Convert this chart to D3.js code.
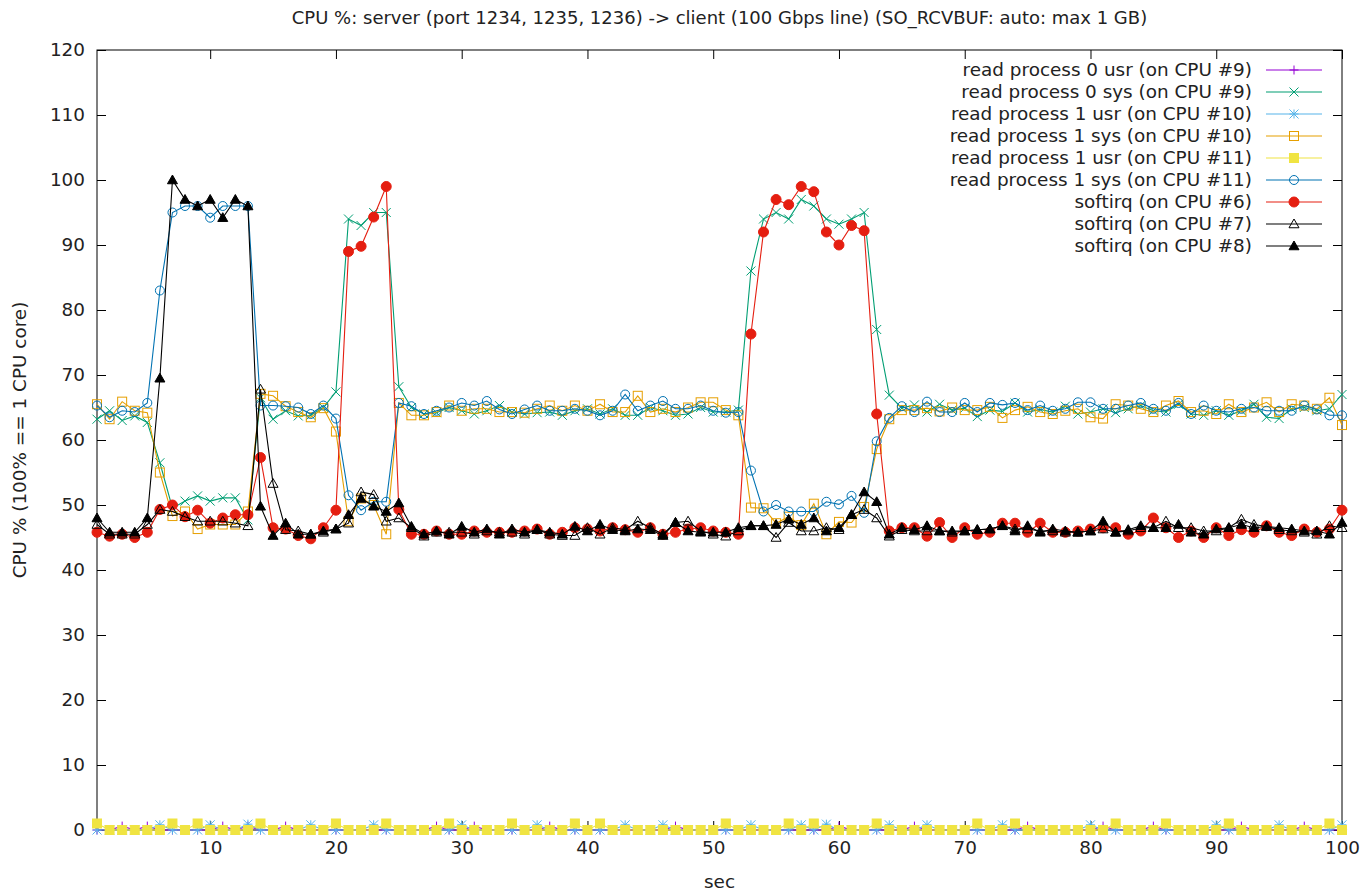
<!DOCTYPE html>
<html>
<head>
<meta charset="utf-8">
<script src="https://cdn.jsdelivr.net/npm/d3@7"></script>
<style>
  body { margin: 0; background: #fff; }
  svg { display: block; font-family: "DejaVu Sans", sans-serif; }
</style>
</head>
<body>
<svg id="chart" width="1365" height="893"></svg>
<script>
'use strict';

// seconds on the x axis start at 1, one sample per second
const firstSec = 1;
const xTicks = [10, 20, 30, 40, 50, 60, 70, 80, 90, 100];
const yTicks = [0, 10, 20, 30, 40, 50, 60, 70, 80, 90, 100, 110, 120];

const titleText = 'CPU %: server (port 1234, 1235, 1236) -> client (100 Gbps line) (SO_RCVBUF: auto: max 1 GB)';
const xLabel = 'sec';
const yLabel = 'CPU % (100% == 1 CPU core)';

const seriesNames = [
  'read process 0 usr (on CPU #9)',
  'read process 0 sys (on CPU #9)',
  'read process 1 usr (on CPU #10)',
  'read process 1 sys (on CPU #10)',
  'read process 1 usr (on CPU #11)',
  'read process 1 sys (on CPU #11)',
  'softirq (on CPU #6)',
  'softirq (on CPU #7)',
  'softirq (on CPU #8)'
];

const proc0Usr = [
  0, 0, 0.6, 0, 0.6, 0, 0, 0, 0, 0,
  0.6, 0, 0.6, 0, 0, 0.6, 0, 0, 0, 0,
  0, 0, 0, 0, 0, 0, 0, 0.6, 0, 0,
  0.6, 0, 0, 0, 0, 0, 0.6, 0, 0, 0,
  0, 0, 0, 0, 0, 0, 0.6, 0, 0, 0,
  0, 0, 0, 0, 0, 0, 0, 0, 0, 0.6,
  0, 0, 0, 0, 0, 0.6, 0, 0, 0, 0,
  0, 0, 0, 0, 0.6, 0, 0, 0, 0, 0,
  0.6, 0, 0, 0, 0.6, 0, 0, 0, 0, 0,
  0, 0.6, 0, 0, 0, 0, 0.6, 0, 0, 0
];

const proc0Sys = [
  63.2, 64.5, 63.0, 63.7, 62.7, 56.5, 49.5, 50.6, 51.4, 50.6,
  51.1, 51.1, 47.7, 66.5, 63.2, 64.5, 63.7, 63.8, 65.0, 67.4,
  94.0, 93.0, 95.0, 95.0, 68.2, 65.0, 64.0, 64.2, 65.0, 64.5,
  64.0, 64.5, 65.3, 64.3, 64.0, 64.2, 64.3, 63.8, 64.5, 64.8,
  64.0, 64.8, 63.8, 63.8, 65.0, 64.5, 63.8, 64.0, 65.0, 64.3,
  64.3, 64.6, 86.0, 94.0, 95.0, 94.0, 97.0, 96.0, 94.0, 93.2,
  94.0, 95.0, 77.0, 66.9, 64.9, 65.4, 64.3, 65.5, 64.6, 64.9,
  63.6, 64.6, 64.4, 65.7, 64.3, 64.7, 64.3, 65.2, 64.0, 64.3,
  64.8, 64.2, 64.8, 65.3, 64.5, 64.3, 65.5, 64.0, 63.8, 64.5,
  63.8, 64.5, 65.5, 63.5, 63.3, 64.8, 65.0, 64.5, 64.8, 67.0
];

const proc1Usr10 = [
  0, 0, 0, 0, 0, 0.8, 0, 0, 0, 0.8,
  0, 0, 0.9, 0, 0, 0, 0, 0.8, 0, 0,
  0, 0, 0.8, 0, 0, 0, 0, 0, 0, 0.8,
  0, 0, 0, 0, 0, 0.8, 0, 0, 0, 0,
  0, 0, 0.8, 0, 0, 0.8, 0, 0, 0, 0,
  0, 0, 0.8, 0, 0, 0, 0.8, 0, 0.9, 0,
  0, 0, 0, 0.8, 0, 0, 0.8, 0, 0, 0,
  0, 0, 0.8, 0, 0, 0, 0, 0, 0, 0.8,
  0, 0, 0, 0, 0, 0, 0, 0, 0, 0.8,
  0, 0, 0, 0, 0.8, 0, 0, 0, 0, 0.8
];

const proc1Sys10 = [
  65.5, 63.2, 65.9, 64.5, 64.2, 55.0, 48.3, 49.0, 46.3, 47.0,
  47.0, 47.0, 49.0, 67.1, 66.8, 65.2, 64.3, 63.5, 64.9, 61.3,
  47.5, 51.0, 50.0, 45.5, 65.7, 63.8, 63.8, 64.3, 65.3, 64.5,
  64.8, 64.8, 64.3, 64.3, 64.2, 64.8, 65.3, 64.5, 65.3, 64.5,
  65.5, 64.3, 64.3, 66.8, 64.3, 64.8, 64.3, 65.0, 65.8, 65.8,
  64.6, 63.8, 49.6, 49.5, 47.2, 48.2, 46.9, 50.2, 45.5, 47.4,
  47.3, 49.7, 58.6, 63.2, 64.6, 64.6, 64.9, 64.4, 65.0, 64.6,
  64.6, 65.1, 63.4, 64.6, 65.1, 64.3, 64.0, 64.5, 64.8, 63.5,
  63.3, 65.5, 65.3, 64.8, 64.3, 65.3, 66.0, 64.3, 64.5, 64.0,
  65.5, 64.3, 65.0, 65.8, 64.3, 65.5, 65.3, 64.8, 66.5, 62.3
];

const proc1Usr11 = [
  1, 0, 0, 0, 0, 0, 1, 0, 1, 0,
  0, 0, 0, 1, 0, 0, 0, 0, 0, 1,
  0, 0, 0, 1, 0, 0, 0, 0, 1, 0,
  0, 0, 0, 1, 0, 0, 0, 0, 1, 0,
  1, 0, 0, 0, 0, 0, 0, 0, 0, 0,
  1, 0, 0, 0, 0, 1, 0, 1, 0, 0,
  0, 0, 1, 0, 0, 0, 0, 0, 0, 0,
  1, 0, 0, 1, 0, 0, 0, 0, 0, 0,
  0, 1, 0, 0, 0, 1, 0, 0, 0, 0,
  1, 0, 0, 0, 0, 0, 0, 0, 1, 0
];

const proc1Sys11 = [
  65.3, 63.5, 64.5, 64.3, 65.7, 83.0, 95.0, 96.0, 96.0, 94.2,
  96.0, 96.0, 96.0, 65.3, 65.3, 65.2, 65.0, 64.0, 65.3, 63.3,
  51.5, 49.2, 50.5, 50.5, 65.7, 65.2, 64.0, 64.5, 65.0, 65.7,
  65.3, 66.0, 64.7, 64.0, 64.7, 65.3, 64.5, 64.5, 64.8, 64.5,
  63.8, 64.5, 67.0, 64.5, 65.3, 66.0, 64.8, 64.8, 65.3, 64.5,
  64.2, 64.3, 55.3, 49.0, 50.0, 49.0, 49.0, 49.0, 50.5, 50.1,
  51.4, 48.8, 59.8, 63.4, 65.2, 64.3, 65.9, 64.3, 64.3, 65.7,
  64.3, 65.7, 65.4, 65.7, 64.6, 65.3, 64.5, 64.8, 65.8, 65.8,
  64.8, 64.8, 65.3, 65.7, 64.8, 64.5, 65.7, 64.0, 65.3, 64.5,
  64.3, 64.8, 65.0, 64.5, 64.5, 64.5, 65.3, 64.7, 63.8, 63.8
];

const softirq6 = [
  45.8, 45.2, 45.5, 45.0, 45.8, 49.3, 50.0, 48.2, 49.2, 47.2,
  48.0, 48.5, 48.5, 57.3, 46.5, 46.3, 45.3, 44.8, 46.5, 49.2,
  89.0, 89.8, 94.3, 99.0, 49.3, 45.5, 45.5, 46.0, 45.5, 45.5,
  46.0, 45.8, 45.8, 45.8, 46.0, 46.3, 45.5, 45.8, 46.5, 46.3,
  46.0, 46.5, 46.2, 45.8, 46.5, 45.5, 45.8, 46.3, 46.5, 46.0,
  45.8, 45.5, 76.3, 92.0, 97.0, 96.2, 99.0, 98.2, 92.0, 90.0,
  93.0, 92.2, 64.0, 46.0, 46.5, 46.5, 45.2, 47.3, 45.0, 46.5,
  45.5, 45.8, 47.2, 47.2, 45.8, 47.2, 45.8, 45.8, 46.0, 46.3,
  46.5, 46.5, 45.5, 46.0, 48.0, 46.5, 45.0, 46.0, 45.0, 46.5,
  45.3, 46.2, 45.8, 46.8, 45.8, 45.3, 46.3, 45.8, 46.3, 49.2
];

const softirq7 = [
  47.0, 45.5, 45.5, 45.5, 47.0, 49.3, 49.0, 48.2, 47.5, 47.5,
  47.5, 47.2, 46.8, 67.8, 53.3, 46.2, 46.0, 45.5, 45.8, 46.3,
  47.2, 52.0, 51.6, 47.5, 48.0, 46.5, 45.2, 45.8, 45.8, 45.8,
  45.5, 46.0, 45.8, 45.8, 45.5, 46.2, 45.5, 45.3, 45.3, 46.5,
  45.5, 46.5, 46.2, 47.5, 46.5, 45.5, 47.3, 47.5, 46.0, 45.5,
  45.2, 46.0, 46.8, 46.8, 45.0, 47.3, 46.0, 46.0, 46.5, 46.2,
  48.5, 49.3, 48.0, 45.2, 46.2, 46.0, 46.0, 46.0, 45.8, 46.0,
  46.2, 46.3, 46.8, 46.3, 46.3, 46.0, 46.0, 45.8, 45.8, 46.0,
  46.3, 45.8, 46.0, 46.5, 46.5, 47.5, 46.5, 46.5, 46.0, 46.0,
  46.5, 47.8, 47.0, 46.7, 46.2, 46.0, 45.8, 45.5, 46.8, 46.5
];

const softirq8 = [
  48.0, 45.8, 45.8, 45.8, 48.0, 69.5, 100.0, 97.0, 96.0, 97.0,
  94.2, 97.0, 96.0, 49.8, 45.3, 47.2, 45.5, 45.5, 46.0, 46.3,
  48.5, 51.0, 49.8, 49.0, 50.3, 46.7, 45.5, 46.0, 45.5, 46.7,
  45.8, 46.3, 45.5, 46.3, 45.8, 46.2, 45.8, 45.5, 46.7, 46.0,
  47.0, 46.2, 46.0, 46.3, 46.2, 45.3, 47.3, 46.0, 45.8, 45.8,
  45.8, 46.5, 46.8, 46.8, 47.0, 47.8, 47.0, 48.0, 46.0, 46.5,
  48.5, 52.0, 50.5, 45.5, 46.5, 46.2, 46.8, 46.0, 46.0, 46.0,
  46.2, 46.3, 46.8, 46.0, 46.8, 45.8, 46.3, 46.0, 45.8, 46.0,
  47.5, 45.8, 46.2, 46.8, 46.5, 46.5, 47.0, 45.8, 45.5, 46.3,
  46.5, 47.0, 46.5, 46.7, 46.5, 46.3, 46.0, 46.0, 45.5, 47.3
];

const seriesValues = [proc0Usr, proc0Sys, proc1Usr10, proc1Sys10, proc1Usr11,
                      proc1Sys11, softirq6, softirq7, softirq8];
const seriesColors = ['#9400d3', '#009e73', '#56b4e9', '#e69f00', '#f0e442',
                      '#0072b2', '#e51e10', '#000000', '#000000'];
const seriesMarkers = ['plus', 'cross', 'star', 'square', 'squareFilled',
                       'circle', 'circleFilled', 'triangle', 'triangleFilled'];

const margin = {left: 97, right: 1342, top: 50, bottom: 830};
const fontSize = 18.4;
const tickLen = 9;
const ms = 4.5; // marker half size

const svg = d3.select('#chart');

const x = d3.scaleLinear().domain([1, 100]).range([margin.left, margin.right]);
const y = d3.scaleLinear().domain([0, 120]).range([margin.bottom, margin.top]);

// axes, gnuplot style ticks pointing inward and mirrored
function styleAxis(g) {
  g.selectAll('.domain').remove();
  g.selectAll('line').attr('stroke', '#000').attr('stroke-width', 1);
  g.selectAll('text').attr('fill', '#222').style('font-size', fontSize + 'px')
    .style('font-family', '"DejaVu Sans", sans-serif');
}

svg.append('g')
  .attr('transform', 'translate(0,' + margin.bottom + ')')
  .call(d3.axisBottom(x).tickValues(xTicks).tickSize(-tickLen).tickPadding(11).tickFormat(d3.format('d')))
  .call(styleAxis);

svg.append('g')
  .attr('transform', 'translate(0,' + margin.top + ')')
  .call(d3.axisTop(x).tickValues(xTicks).tickSize(-tickLen).tickFormat(''))
  .call(styleAxis);

svg.append('g')
  .attr('transform', 'translate(' + margin.left + ',0)')
  .call(d3.axisLeft(y).tickValues(yTicks).tickSize(-tickLen).tickPadding(12).tickFormat(d3.format('d')))
  .call(styleAxis);

svg.append('g')
  .attr('transform', 'translate(' + margin.right + ',0)')
  .call(d3.axisRight(y).tickValues(yTicks).tickSize(-tickLen).tickFormat(''))
  .call(styleAxis);

svg.append('rect')
  .attr('x', margin.left).attr('y', margin.top)
  .attr('width', margin.right - margin.left)
  .attr('height', margin.bottom - margin.top)
  .attr('fill', 'none').attr('stroke', '#000').attr('stroke-width', 1);

// titles
const midX = (margin.left + margin.right) / 2;
svg.append('text')
  .attr('x', midX).attr('y', 24)
  .attr('text-anchor', 'middle')
  .style('font-size', '18px')
  .attr('fill', '#222')
  .text(titleText);

svg.append('text')
  .attr('x', midX).attr('y', 888)
  .attr('text-anchor', 'middle')
  .style('font-size', fontSize + 'px')
  .attr('fill', '#222')
  .text(xLabel);

svg.append('text')
  .attr('transform', 'translate(26,' + ((margin.top + margin.bottom) / 2) + ') rotate(-90)')
  .attr('text-anchor', 'middle')
  .style('font-size', fontSize + 'px')
  .attr('fill', '#222')
  .text(yLabel);

// marker drawing
function drawMarker(g, type, color, cx, cy) {
  const s = ms;
  if (type === 'plus') {
    g.append('path').attr('d', `M${cx - s},${cy}H${cx + s}M${cx},${cy - s}V${cy + s}`)
      .attr('stroke', color).attr('fill', 'none');
  } else if (type === 'cross') {
    g.append('path').attr('d', `M${cx - s},${cy - s}L${cx + s},${cy + s}M${cx - s},${cy + s}L${cx + s},${cy - s}`)
      .attr('stroke', color).attr('fill', 'none');
  } else if (type === 'star') {
    g.append('path').attr('d', `M${cx - s},${cy}H${cx + s}M${cx},${cy - s}V${cy + s}M${cx - s},${cy - s}L${cx + s},${cy + s}M${cx - s},${cy + s}L${cx + s},${cy - s}`)
      .attr('stroke', color).attr('fill', 'none');
  } else if (type === 'square' || type === 'squareFilled') {
    g.append('rect').attr('x', cx - s).attr('y', cy - s).attr('width', 2 * s).attr('height', 2 * s)
      .attr('stroke', color).attr('fill', type === 'square' ? 'none' : color);
  } else if (type === 'circle' || type === 'circleFilled') {
    g.append('circle').attr('cx', cx).attr('cy', cy).attr('r', type === 'circle' ? s : s + 0.5)
      .attr('stroke', color).attr('fill', type === 'circle' ? 'none' : color);
  } else {
    const t = s + 0.5;
    g.append('path').attr('d', `M${cx},${cy - t}L${cx + t},${cy + t * 0.75}L${cx - t},${cy + t * 0.75}Z`)
      .attr('stroke', color).attr('fill', type === 'triangle' ? 'none' : color);
  }
}

const line = d3.line()
  .x((d, i) => x(firstSec + i))
  .y(d => y(d));

const plotG = svg.append('g');
seriesValues.forEach((vals, k) => {
  const g = plotG.append('g');
  g.append('path')
    .datum(vals)
    .attr('d', line)
    .attr('fill', 'none')
    .attr('stroke', seriesColors[k])
    .attr('stroke-width', 1.1);
  vals.forEach((v, i) => {
    drawMarker(g, seriesMarkers[k], seriesColors[k], x(firstSec + i), y(v));
  });
});

// legend
const legG = svg.append('g');
const legTextRight = 1252;
const legLineX0 = 1266, legLineX1 = 1322;
seriesNames.forEach((name, k) => {
  const ly = 70 + k * 22;
  legG.append('text')
    .attr('x', legTextRight).attr('y', ly)
    .attr('dy', '0.35em')
    .attr('text-anchor', 'end')
    .style('font-size', fontSize + 'px')
    .attr('fill', '#222')
    .text(name);
  legG.append('line')
    .attr('x1', legLineX0).attr('x2', legLineX1)
    .attr('y1', ly).attr('y2', ly)
    .attr('stroke', seriesColors[k]).attr('stroke-width', 1.1);
  drawMarker(legG, seriesMarkers[k], seriesColors[k], (legLineX0 + legLineX1) / 2, ly);
});
</script>
</body>
</html>
